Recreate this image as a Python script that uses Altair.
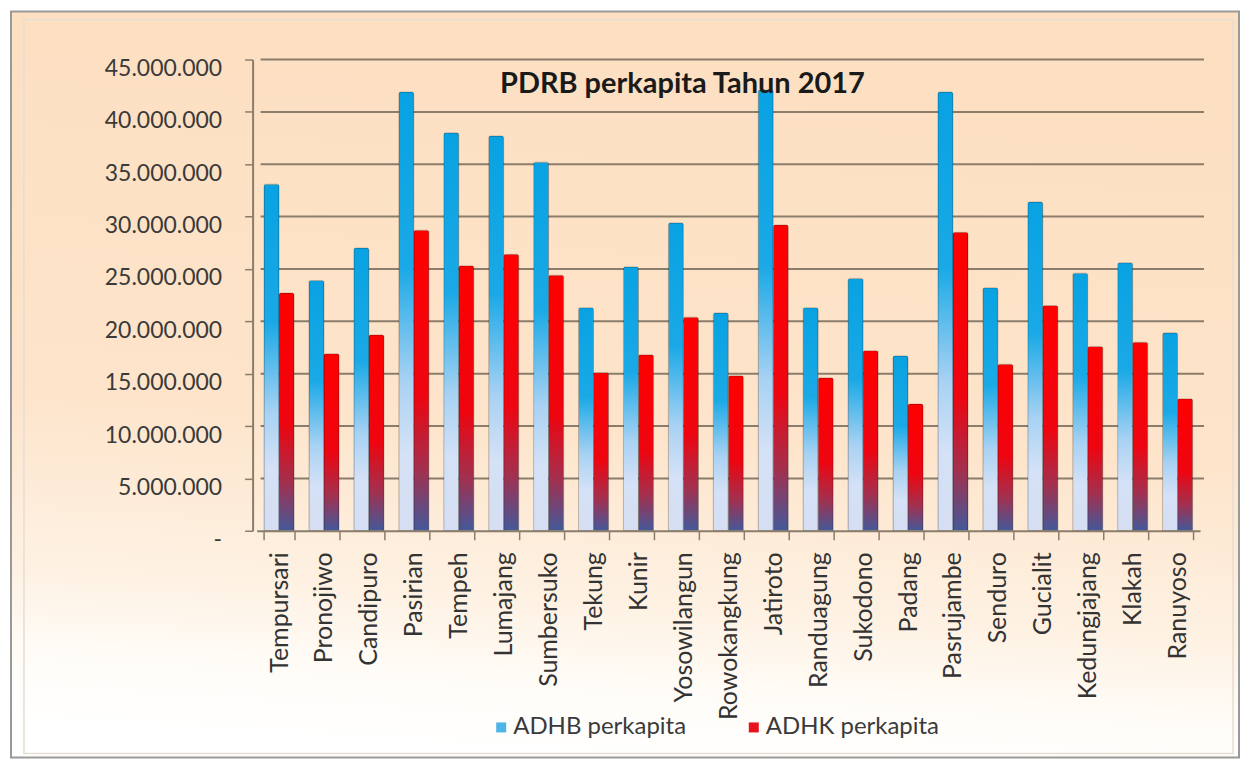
import altair as alt
import pandas as pd

categories = ["Tempursari", "Pronojiwo", "Candipuro", "Pasirian", "Tempeh", "Lumajang",
              "Sumbersuko", "Tekung", "Kunir", "Yosowilangun", "Rowokangkung", "Jatiroto",
              "Randuagung", "Sukodono", "Padang", "Pasrujambe", "Senduro", "Gucialit",
              "Kedungjajang", "Klakah", "Ranuyoso"]
adhb = [33100000, 23900000, 27000000, 41900000, 38000000, 37700000, 35200000, 21300000,
        25200000, 29400000, 20800000, 42100000, 21300000, 24100000, 16700000, 41900000,
        23200000, 31400000, 24600000, 25600000, 18900000]
adhk = [22700000, 16900000, 18700000, 28700000, 25300000, 26400000, 24400000, 15100000,
        16800000, 20400000, 14800000, 29200000, 14600000, 17200000, 12100000, 28500000,
        15900000, 21500000, 17600000, 18000000, 12600000]
series_names = ["ADHB perkapita", "ADHK perkapita"]
y_ticks = [0, 5000000, 10000000, 15000000, 20000000, 25000000, 30000000, 35000000,
           40000000, 45000000]
title_text = "PDRB perkapita Tahun 2017"

rows = []
for c, b, k in zip(categories, adhb, adhk):
    rows.append({"district": c, "series": series_names[0], "value": b})
    rows.append({"district": c, "series": series_names[1], "value": k})
df = pd.DataFrame(rows)
grid_df = pd.DataFrame({"tick": y_ticks[1:]})

W, H = 945, 472
FONT = "Lato"
AX = "#8B7D6B"

bg_grad = {"gradient": "linear", "x1": 0.55, "y1": 0, "x2": 0.45, "y2": 1,
           "stops": [{"offset": 0, "color": "#FDDFC1"},
                     {"offset": 0.55, "color": "#FDE4CA"},
                     {"offset": 0.8, "color": "#FEF2E4"},
                     {"offset": 0.9, "color": "#FFFCF7"},
                     {"offset": 1, "color": "#FFFFFF"}]}
blue_grad = {"gradient": "linear", "x1": 0, "y1": 0, "x2": 0, "y2": 1,
             "stops": [{"offset": 0, "color": "#08A2E2"},
                       {"offset": 0.4, "color": "#1AA9E6"},
                       {"offset": 0.66, "color": "#A9D2F3"},
                       {"offset": 0.82, "color": "#D4E1F6"},
                       {"offset": 1, "color": "#D6DEF3"}]}
red_grad = {"gradient": "linear", "x1": 0, "y1": 0, "x2": 0, "y2": 1,
            "stops": [{"offset": 0, "color": "#FF0000"},
                      {"offset": 0.55, "color": "#EE0510"},
                      {"offset": 0.8, "color": "#A2304F"},
                      {"offset": 1, "color": "#43599A"}]}

x_enc = alt.X("district:N", sort=categories,
              scale=alt.Scale(paddingInner=0.33, paddingOuter=0.165),
              axis=alt.Axis(title=None, labelAngle=-90, labelFont=FONT, labelFontSize=25,
                            labelColor="#333333", tickBand="extent", tickSize=9,
                            tickOffset=-4,
                            tickColor=AX, tickWidth=1.5, domainColor=AX, domainWidth=2,
                            labelPadding=12, grid=False, zindex=1, labelLimit=0))
xo_enc = alt.XOffset("series:N", sort=series_names,
                     scale=alt.Scale(domain=series_names, paddingInner=0, paddingOuter=0))
y_scale = alt.Scale(domain=[0, 45000000], nice=False)
y_axis = alt.Axis(title=None, values=y_ticks,
                  labelExpr="datum.value == 0 ? '-' : replace(format(datum.value, ',d'), /,/g, '.')",
                  labelFont=FONT, labelFontSize=23, labelColor="#3a3a3a",
                  labelOffset=9, labelPadding=23, tickSize=8, tickColor=AX, offset=4,
                  tickWidth=1.5, domainColor=AX, domainWidth=2,
                  grid=False, zindex=1)

frame = alt.Chart(pd.DataFrame({"k": [0]})).mark_rect(
    fill=bg_grad, stroke="#999999", strokeWidth=2
).encode(x=alt.value(-246), x2=alt.value(W + 39), y=alt.value(-48), y2=alt.value(H + 227))

inner = alt.Chart(pd.DataFrame({"k": [0]})).mark_rect(
    fill=None, stroke="#E6DDD3", strokeWidth=1.5
).encode(x=alt.value(-233), x2=alt.value(W + 33), y=alt.value(-40), y2=alt.value(H + 223))

grid = alt.Chart(grid_df).mark_rule(color=AX, strokeWidth=2).encode(
    y=alt.Y("tick:Q", scale=y_scale, axis=y_axis),
    x=alt.value(4), x2=alt.value(W + 4),
)

bars = alt.Chart(df).mark_bar(
    stroke="#000000", strokeOpacity=0.2, strokeWidth=1,
    cornerRadiusTopLeft=2, cornerRadiusTopRight=2
).encode(
    x=x_enc, xOffset=xo_enc,
    y=alt.Y("value:Q", scale=y_scale, axis=y_axis),
    fill=alt.condition(alt.datum.series == series_names[0],
                       alt.value(blue_grad), alt.value(red_grad)),
)

legend_layer = alt.Chart(df).mark_bar().encode(
    x=x_enc, xOffset=xo_enc,
    y=alt.Y("value:Q", scale=y_scale, axis=y_axis), y2=alt.Y2("value:Q"),
    color=alt.Color("series:N", sort=series_names,
                    scale=alt.Scale(domain=series_names, range=["#4FB5E8", "#E8101A"]),
                    legend=alt.Legend(title=None, orient="none", legendX=233, legendY=657,
                                      direction="horizontal", symbolType="square",
                                      symbolSize=100, labelFont=FONT, labelFontSize=24,
                                      labelColor="#3a3a3a", columnPadding=55, padding=0,
                                      labelOffset=0, symbolStrokeWidth=0, labelLimit=0)),
)

chart = alt.layer(frame, inner, grid, bars, legend_layer).properties(
    width=W, height=H,
    title=alt.Title(title_text, font=FONT, fontSize=29, fontWeight="bold",
                    color="#1a1a1a", anchor="middle", frame="group", dx=-46, offset=-89),
    padding={"left": 2, "top": 2, "right": 0, "bottom": 0},
    background="#FFFFFF",
).configure_view(stroke=None)

chart.save("out.html", embed_options={"renderer": "svg", "actions": False})
